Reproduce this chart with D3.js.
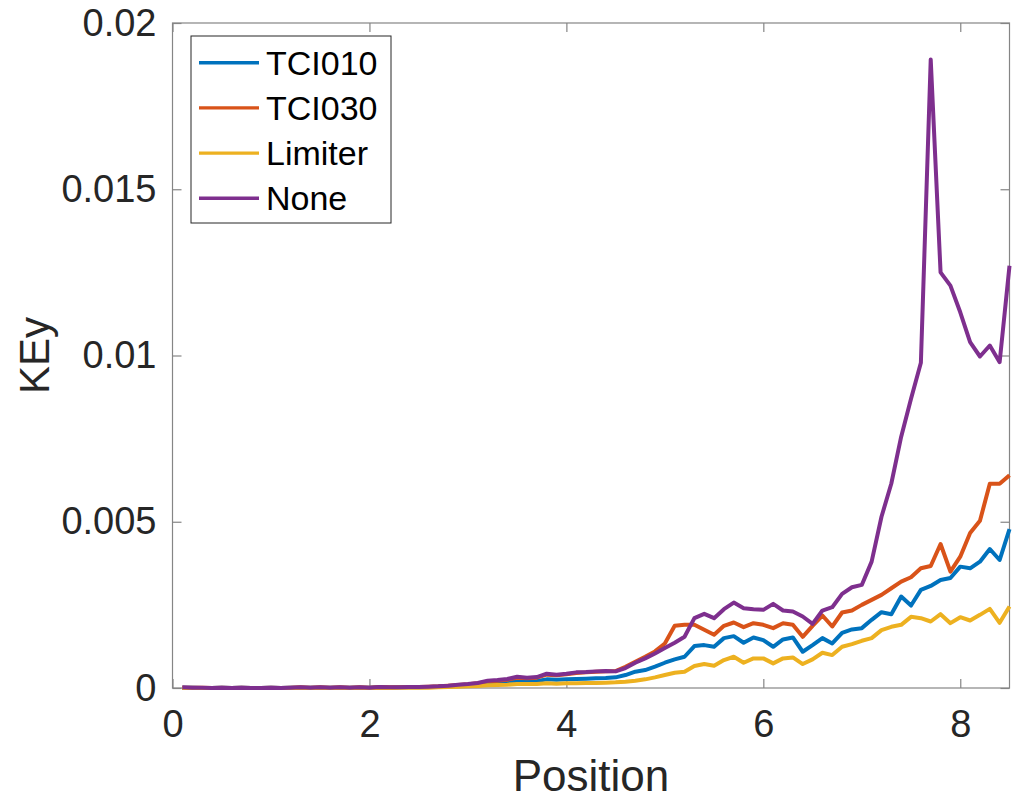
<!DOCTYPE html>
<html>
<head>
<meta charset="utf-8">
<script src="https://cdn.jsdelivr.net/npm/d3@7"></script>
<style>
  body { margin: 0; background: #fff; }
  text { font-family: "Liberation Sans", Arial, Helvetica, sans-serif; }
</style>
</head>
<body>
<div id="chart"></div>
<script>
// positions 0.1 .. 8.5
const positions = d3.range(1, 86).map(i => +(i * 0.1).toFixed(1));

const tci010 = [
  0.00001, 0.00001, 0.00000, 0.00000, 0.00001, 0.00000, 0.00001, 0.00000, 0.00000, 0.00001,
  0.00000, 0.00001, 0.00001, 0.00001, 0.00001, 0.00001, 0.00001, 0.00001, 0.00001, 0.00001,
  0.00002, 0.00001, 0.00002, 0.00002, 0.00002, 0.00003, 0.00004, 0.00005, 0.00007, 0.00008,
  0.00010, 0.00014, 0.00015, 0.00017, 0.00021, 0.00020, 0.00021, 0.00026, 0.00025, 0.00026,
  0.00027, 0.00028, 0.00029, 0.00030, 0.00032, 0.00039, 0.00049, 0.00054, 0.00064, 0.00076,
  0.00086, 0.00094, 0.00126, 0.00129, 0.00124, 0.00150, 0.00156, 0.00136, 0.00152, 0.00144,
  0.00124, 0.00146, 0.00152, 0.00109, 0.00129, 0.00150, 0.00134, 0.00166, 0.00176, 0.00180,
  0.00205, 0.00228, 0.00222, 0.00275, 0.00248, 0.00295, 0.00307, 0.00325, 0.00331, 0.00365,
  0.00360, 0.00380, 0.00418, 0.00385, 0.00478
];

const tci030 = [
  0.00001, 0.00001, 0.00001, 0.00000, 0.00001, 0.00000, 0.00001, 0.00000, 0.00000, 0.00001,
  0.00000, 0.00001, 0.00002, 0.00001, 0.00002, 0.00001, 0.00002, 0.00001, 0.00002, 0.00001,
  0.00003, 0.00002, 0.00002, 0.00003, 0.00003, 0.00004, 0.00005, 0.00007, 0.00009, 0.00011,
  0.00014, 0.00020, 0.00022, 0.00025, 0.00031, 0.00029, 0.00031, 0.00040, 0.00038, 0.00041,
  0.00045, 0.00047, 0.00049, 0.00050, 0.00051, 0.00064, 0.00079, 0.00094, 0.00110, 0.00134,
  0.00187, 0.00190, 0.00190, 0.00175, 0.00160, 0.00187, 0.00197, 0.00183, 0.00195, 0.00190,
  0.00180, 0.00195, 0.00190, 0.00154, 0.00187, 0.00218, 0.00185, 0.00227, 0.00233, 0.00250,
  0.00265, 0.00280, 0.00300, 0.00320, 0.00333, 0.00360, 0.00367, 0.00433, 0.00350, 0.00395,
  0.00466, 0.00503, 0.00614, 0.00614, 0.00640
];

const limiter = [
  0.00000, 0.00000, 0.00000, 0.00000, 0.00000, 0.00000, 0.00000, 0.00000, 0.00000, 0.00000,
  0.00000, 0.00000, 0.00000, 0.00000, 0.00000, 0.00000, 0.00000, 0.00000, 0.00000, 0.00000,
  0.00000, 0.00000, 0.00001, 0.00001, 0.00001, 0.00001, 0.00002, 0.00003, 0.00004, 0.00005,
  0.00006, 0.00008, 0.00009, 0.00010, 0.00012, 0.00012, 0.00012, 0.00014, 0.00013, 0.00014,
  0.00014, 0.00015, 0.00015, 0.00016, 0.00017, 0.00019, 0.00022, 0.00026, 0.00032, 0.00039,
  0.00046, 0.00049, 0.00066, 0.00072, 0.00067, 0.00084, 0.00094, 0.00076, 0.00089, 0.00089,
  0.00074, 0.00089, 0.00092, 0.00072, 0.00086, 0.00106, 0.00099, 0.00124, 0.00132, 0.00142,
  0.00150, 0.00174, 0.00184, 0.00190, 0.00214, 0.00210, 0.00200, 0.00222, 0.00195, 0.00213,
  0.00203, 0.00220, 0.00238, 0.00196, 0.00245
];

const none = [
  0.00002, 0.00001, 0.00001, 0.00000, 0.00001, 0.00000, 0.00001, 0.00000, 0.00000, 0.00001,
  0.00000, 0.00001, 0.00002, 0.00001, 0.00002, 0.00001, 0.00002, 0.00001, 0.00002, 0.00001,
  0.00003, 0.00002, 0.00002, 0.00003, 0.00003, 0.00004, 0.00005, 0.00007, 0.00010, 0.00012,
  0.00015, 0.00022, 0.00024, 0.00027, 0.00034, 0.00031, 0.00033, 0.00043, 0.00040, 0.00043,
  0.00047, 0.00048, 0.00050, 0.00051, 0.00050, 0.00060, 0.00076, 0.00089, 0.00104, 0.00120,
  0.00136, 0.00154, 0.00210, 0.00223, 0.00210, 0.00237, 0.00257, 0.00240, 0.00237, 0.00235,
  0.00253, 0.00233, 0.00230, 0.00215, 0.00193, 0.00233, 0.00243, 0.00283, 0.00303, 0.00310,
  0.00380, 0.00515, 0.00615, 0.00756, 0.00870, 0.00978, 0.01890, 0.01250, 0.01210, 0.01130,
  0.01040, 0.00997, 0.01030, 0.00980, 0.01270
];

const seriesNames = ["TCI010", "TCI030", "Limiter", "None"];
const seriesValues = [tci010, tci030, limiter, none];
const seriesColors = ["#0072bd", "#d95319", "#edb120", "#7e2f8e"];

const xTicks = [0, 2, 4, 6, 8];
const yTicks = [0, 0.005, 0.01, 0.015, 0.02];
const yTickLabels = ["0", "0.005", "0.01", "0.015", "0.02"];

const width = 1013, height = 800;
const margin = { left: 172.5, right: 3.5, top: 23, bottom: 112 };

const svg = d3.select("#chart").append("svg")
    .attr("width", width)
    .attr("height", height);

const x = d3.scaleLinear().domain([0, 8.5]).range([margin.left, width - margin.right]);
const y = d3.scaleLinear().domain([0, 0.02]).range([height - margin.bottom, margin.top]);

const axisColor = "#858585";
const textColor = "#262626";
const tickLen = 9;

// plot box
svg.append("rect")
    .attr("x", x(0)).attr("y", y(0.02))
    .attr("width", x(8.5) - x(0)).attr("height", y(0) - y(0.02))
    .attr("fill", "none")
    .attr("stroke", axisColor)
    .attr("stroke-width", 1.2);

// x axis (bottom) + top ticks
const xAxis = svg.append("g")
    .attr("transform", `translate(0,${y(0)})`)
    .call(d3.axisBottom(x).tickValues(xTicks).tickFormat(d3.format("d")).tickSizeInner(-tickLen).tickSizeOuter(0).tickPadding(22));
xAxis.select(".domain").remove();
xAxis.selectAll("line").attr("stroke", axisColor).attr("stroke-width", 1.2);
xAxis.selectAll("text").attr("fill", textColor).style("font-size", "38px");

const xTop = svg.append("g")
    .attr("transform", `translate(0,${y(0.02)})`)
    .call(d3.axisTop(x).tickValues(xTicks).tickFormat("").tickSizeInner(-tickLen).tickSizeOuter(0));
xTop.select(".domain").remove();
xTop.selectAll("line").attr("stroke", axisColor).attr("stroke-width", 1.2);

// y axis (left) + right ticks
const yAxis = svg.append("g")
    .attr("transform", `translate(${x(0)},0)`)
    .call(d3.axisLeft(y).tickValues(yTicks).tickFormat((d, i) => yTickLabels[i]).tickSizeInner(-tickLen).tickSizeOuter(0).tickPadding(16));
yAxis.select(".domain").remove();
yAxis.selectAll("line").attr("stroke", axisColor).attr("stroke-width", 1.2);
yAxis.selectAll("text").attr("fill", textColor).style("font-size", "38px");

const yRight = svg.append("g")
    .attr("transform", `translate(${x(8.5)},0)`)
    .call(d3.axisRight(y).tickValues(yTicks).tickFormat("").tickSizeInner(-tickLen).tickSizeOuter(0));
yRight.select(".domain").remove();
yRight.selectAll("line").attr("stroke", axisColor).attr("stroke-width", 1.2);

// axis labels
svg.append("text")
    .attr("x", (x(0) + x(8.5)) / 2)
    .attr("y", 791)
    .attr("text-anchor", "middle")
    .attr("fill", textColor)
    .style("font-size", "44px")
    .text("Position");

svg.append("text")
    .attr("transform", `translate(49,${(y(0) + y(0.02)) / 2}) rotate(-90)`)
    .attr("text-anchor", "middle")
    .attr("fill", textColor)
    .style("font-size", "42px")
    .text("KEy");

// lines
const line = d3.line()
    .x((d, i) => x(positions[i]))
    .y(d => y(d));

svg.append("g").selectAll("path")
    .data(seriesValues)
    .join("path")
    .attr("d", d => line(d))
    .attr("fill", "none")
    .attr("stroke", (d, i) => seriesColors[i])
    .attr("stroke-width", 4)
    .attr("stroke-linejoin", "round");

// legend
const legend = svg.append("g");
legend.append("rect")
    .attr("x", 191).attr("y", 36)
    .attr("width", 200).attr("height", 187)
    .attr("fill", "#fff")
    .attr("stroke", "#262626")
    .attr("stroke-width", 1);

const rows = legend.selectAll("g.row")
    .data(seriesNames)
    .join("g")
    .attr("class", "row")
    .attr("transform", (d, i) => `translate(0,${62.7 + i * 45.2})`);

rows.append("line")
    .attr("x1", 199).attr("x2", 259)
    .attr("stroke", (d, i) => seriesColors[i])
    .attr("stroke-width", 3.4);

rows.append("text")
    .attr("x", 266)
    .attr("dy", "0.35em")
    .attr("fill", "#000")
    .style("font-size", "34px")
    .text(d => d);
</script>
</body>
</html>
